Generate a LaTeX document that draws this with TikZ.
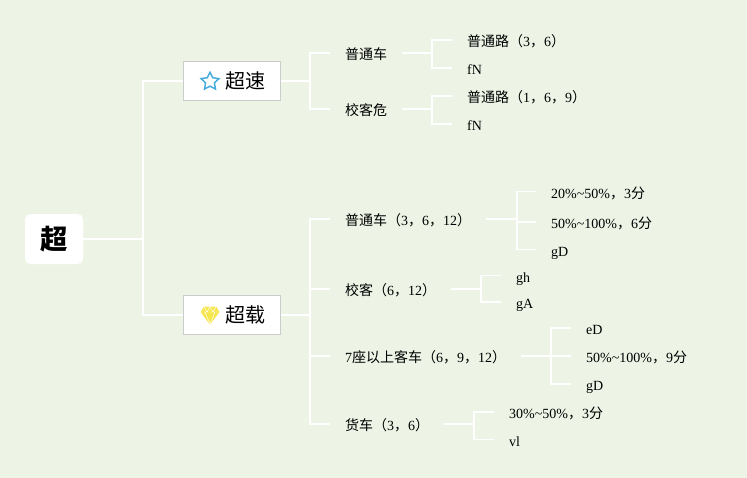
\documentclass[tikz,border=0pt]{standalone}
\usepackage{fontspec}
\setmainfont{Liberation Serif}
\newfontfamily\cjk{Noto Sans CJK SC}
\usepackage{xcolor}
\usetikzlibrary{shapes.geometric, positioning, calc}
\definecolor{bgc}{HTML}{EDF4E6}
\definecolor{starc}{HTML}{45ABDD}
\definecolor{gemc}{HTML}{F5E64E}
\newcommand{\zh}[1]{{\cjk #1}}
\begin{document}
\begin{tikzpicture}[x=0.75pt,y=-0.75pt]
\tikzset{
  rootbox/.style={rectangle,rounded corners=4pt,fill=white,minimum width=43.5pt,minimum height=37.5pt,inner sep=0pt,font=\fontsize{20.5}{21}\selectfont\cjk\bfseries},
  mainbox/.style={rectangle,draw=black!20,line width=0.6pt,fill=white,minimum width=73pt,minimum height=29.5pt,inner sep=0pt,font=\fontsize{15}{15}\selectfont\cjk},
  item/.style={anchor=west,inner xsep=11.2pt,inner ysep=0pt,text height=11pt,text depth=1pt,font=\fontsize{10.5}{10.5}\selectfont},
  ln/.style={draw=white,line width=1.2pt}
}
\path[fill=bgc] (0,0) rectangle (747,478);
\node[rootbox] (root) at (54,239) {\hspace*{1pt}超};
\node[mainbox] (speed) at (232,81) {\hspace*{19.5pt}超速};
\node[mainbox] (load) at (232,315) {\hspace*{19.5pt}超载};
% icons
\node[star,star points=5,star point ratio=2.0,draw=starc,line width=1.1pt,inner sep=0pt,minimum size=14pt] (staricon) at (210,81.5) {};
\fill[gemc] (204,306.5)--(216,306.5)--(219.5,312)--(210,324.5)--(200.5,312)--cycle;
\draw[white,line width=0.35pt] (200.5,312)--(219.5,312) (205,312)--(210,324) (215,312)--(210,324) (204,306.5)--(207,312)--(210,306.5)--(213,312)--(216,306.5);
% upper branch
\node[item] (a1) at (330,53) {\zh{普通车}};
\node[item] (a2) at (330,109) {\zh{校客危}};
\node[item] (a11) at (452,40) {\zh{普通路（}3\zh{，}6\zh{）}};
\node[item] (a12) at (452,68) {fN};
\node[item] (a21) at (452,96) {\zh{普通路（}1\zh{，}6\zh{，}9\zh{）}};
\node[item] (a22) at (452,124) {fN};
% lower branch
\node[item] (b1) at (330,219) {\zh{普通车（}3\zh{，}6\zh{，}12\zh{）}};
\node[item] (b2) at (330,289) {\zh{校客（}6\zh{，}12\zh{）}};
\node[item] (b3) at (330,356) {7\zh{座以上客车（}6\zh{，}9\zh{，}12\zh{）}};
\node[item] (b4) at (330,424) {\zh{货车（}3\zh{，}6\zh{）}};
\node[item] (b11) at (536,191.5) {20\%\textasciitilde 50\%\zh{，}3\zh{分}};
\node[item] (b12) at (536,222) {50\%\textasciitilde 100\%\zh{，}6\zh{分}};
\node[item] (b13) at (536,249.5) {gD};
\node[item] (b21) at (501,275.5) {gh};
\node[item] (b22) at (501,302) {gA};
\node[item] (b31) at (571,328) {eD};
\node[item] (b32) at (571,356) {50\%\textasciitilde 100\%\zh{，}9\zh{分}};
\node[item] (b33) at (571,384) {gD};
\node[item] (b41) at (494,412) {30\%\textasciitilde 50\%\zh{，}3\zh{分}};
\node[item] (b42) at (494,439.5) {vl};
% junctions
\coordinate (jr) at (143,239);
\coordinate (ja) at (310,81);
\coordinate (jb) at (310,315);
\coordinate (ja1) at (432,53);
\coordinate (ja2) at (432,109);
\coordinate (jb1) at (517,219);
\coordinate (jb2) at (481,289);
\coordinate (jb3) at (551,356);
\coordinate (jb4) at (474,424);
\draw[ln] (root.east)--(jr);
\foreach \a in {speed,load}{\draw[ln] (jr) |- (\a.west);}
\draw[ln] (speed.east)--(ja);
\draw[ln] (load.east)--(jb);
\foreach \a in {a1,a2}{\draw[ln] (ja) |- (\a.west);}
\foreach \a in {b1,b2,b3,b4}{\draw[ln] (jb) |- (\a.west);}
\foreach \p/\a/\b in {a1/ja1/a11,a1/ja1/a12,a2/ja2/a21,a2/ja2/a22,b1/jb1/b11,b1/jb1/b12,b1/jb1/b13,b2/jb2/b21,b2/jb2/b22,b3/jb3/b31,b3/jb3/b32,b3/jb3/b33,b4/jb4/b41,b4/jb4/b42}{
  \draw[ln] (\p.east)--(\a);
  \draw[ln] (\a) |- (\b.west);
}
\end{tikzpicture}
\end{document}
